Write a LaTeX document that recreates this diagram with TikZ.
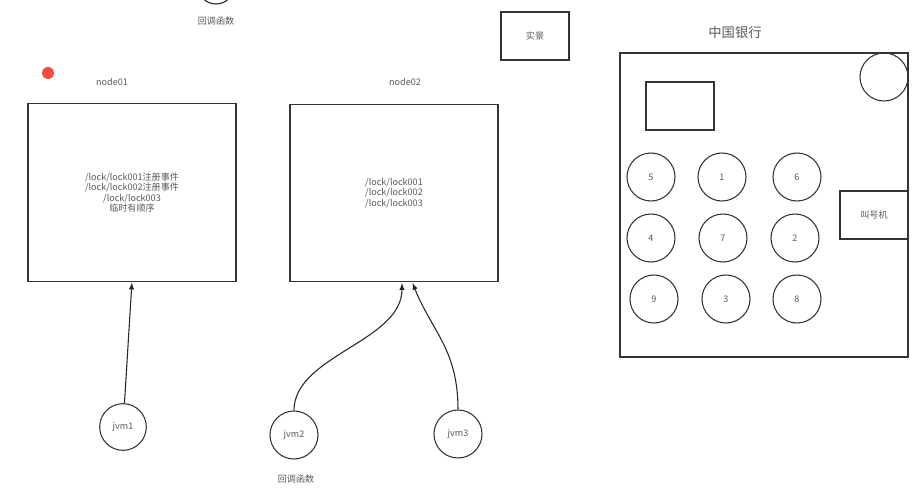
\documentclass[tikz,border=0pt]{standalone}
\usepackage{fontspec}
\setmainfont{Noto Sans CJK SC}
\usetikzlibrary{positioning}
\definecolor{dotred}{RGB}{245,75,65}

\begin{document}
\begin{tikzpicture}[x=0.75pt,y=-0.75pt,>=latex,
    every node/.style={text=black!65,font=\fontsize{6.8}{7.9}\selectfont},
    box/.style={draw=black!80,line width=0.9pt,inner sep=0pt,outer sep=0pt},
    seat/.style={circle,draw=black!80,line width=0.8pt,minimum size=36pt,inner sep=0pt},
    conn/.style={->,draw=black!85,line width=0.8pt,shorten >=1pt}]

  \useasboundingbox (0,0) rectangle (922,488);

  % top left
  \draw[black!80,line width=0.9pt] (216,-14) circle (18);
  \node (cb1) at (216,21) {回调函数};
  \fill[dotred] (48,73) circle (6);

  % zookeeper nodes
  \node (lbl01) at (112,82) {node01};
  \node[box,minimum width=156pt,minimum height=133pt,align=center] (node01) at (132,192.5)
       {/lock/lock001注册事件\\/lock/lock002注册事件\\/lock/lock003\\临时有顺序};
  \node (lbl02) at (405,82) {node02};
  \node[box,minimum width=156pt,minimum height=133pt,align=center] (node02) at (394,193)
       {/lock/lock001\\/lock/lock002\\/lock/lock003};

  \node[box,minimum width=51pt,minimum height=36pt] (shijing) at (535,36) {实景};

  % clients
  \node[seat,minimum size=35pt] (jvm1) at (123,427) {jvm1};
  \node[seat] (jvm2) at (294,435) {jvm2};
  \node[seat] (jvm3) at (458,434) {jvm3};
  \node (cb2) at (296,479) {回调函数};

  \draw[conn] (jvm1) -- (node01.south);
  \draw[conn] (jvm2.north) .. controls +(0,-55) and +(0,60) .. ([xshift=6pt]node02.south);
  \draw[conn] (jvm3.north) .. controls +(0,-60) and +(20,50) .. ([xshift=13.5pt]node02.south);

  % bank
  \node[font=\fontsize{10}{12}\selectfont] (bank) at (735,32) {中国银行};
  \draw[black!80,line width=0.9pt] (620,53) rectangle (908,357);
  \node[box,minimum width=51pt,minimum height=36pt] (counter) at (680,106) {};
  \node[seat] (lamp) at (884,77) {};
  \node[box,minimum width=51pt,minimum height=36pt] (caller) at (874,215) {叫号机};

  \node[seat] (s5) at (651,177) {5};
  \node[seat] (s1) at (722,177) {1};
  \node[seat] (s6) at (797,177) {6};
  \node[seat] (s4) at (651,238) {4};
  \node[seat] (s7) at (723,238) {7};
  \node[seat] (s2) at (795,238) {2};
  \node[seat] (s9) at (654,299) {9};
  \node[seat] (s3) at (726,299) {3};
  \node[seat] (s8) at (797,299) {8};
\end{tikzpicture}
\end{document}
